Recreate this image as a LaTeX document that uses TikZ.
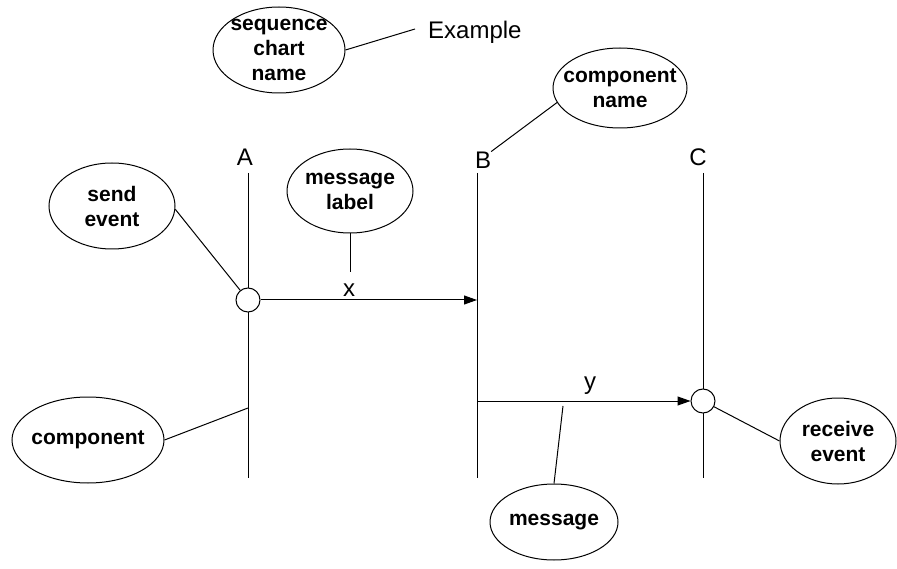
\documentclass[tikz,border=0pt]{standalone}
\usepackage{fontspec}
\setmainfont{Liberation Sans}
\usetikzlibrary{shapes.geometric,arrows.meta}
\begin{document}
\begin{tikzpicture}[x=1pt,y=-1pt,
  bubble/.style={draw,ellipse,line width=1pt,inner sep=0pt},
  btxt/.style={inner sep=0pt,align=center,font=\fontsize{21}{25}\selectfont\bfseries},
  lbl/.style={inner sep=0pt,font=\fontsize{24}{28}\selectfont},
  ln/.style={line width=1pt},
  evt/.style={draw,circle,fill=white,line width=1pt,minimum size=24pt,inner sep=0pt},
  msg/.style={line width=1pt,-{Triangle[length=13pt,width=9pt]}}]
\useasboundingbox (0,0) rectangle (897,569);

% lifelines
\coordinate (At) at (248,173); \coordinate (Ab) at (248,478);
\coordinate (Bt) at (477,173); \coordinate (Bb) at (477,478);
\coordinate (Ct) at (703,173); \coordinate (Cb) at (703,478);
\draw[ln] (At) -- (Ab);
\draw[ln] (Bt) -- (Bb);
\draw[ln] (Ct) -- (Cb);
\node[lbl] (Al) at (245,157) {A};
\node[lbl] (Bl) at (483,160) {B};
\node[lbl] (Cl) at (698,157) {C};

% events
\node[evt] (c1) at (248,300) {};
\node[evt] (c2) at (703,401) {};
\coordinate (bx) at (477,300);
\coordinate (by) at (477,401);
\draw[msg] (c1) -- (bx);
\draw[msg] (by) -- (c2);
\node[lbl] (xl) at (349,290) {x};
\node[lbl] (yl) at (590,386) {y};

% bubbles
\node[bubble,minimum width=132pt,minimum height=86pt] (scn) at (279,50) {};
\node[btxt] (scnt) at (scn) {sequence\\chart\\name};
\node[bubble,minimum width=134pt,minimum height=80pt] (cn) at (620,88) {};
\node[btxt] (cnt) at (cn) {component\\name};
\node[bubble,minimum width=126pt,minimum height=86pt] (se) at (112,206) {};
\node[btxt] (set) at (se) {send\\event};
\node[bubble,minimum width=126pt,minimum height=84pt] (ml) at (350,191) {};
\node[btxt] (mlt) at (ml) {message\\label};
\node[bubble,minimum width=152pt,minimum height=86pt] (comp) at (88,440) {};
\node[btxt] (compt) at (comp) {component};
\node[bubble,minimum width=128pt,minimum height=76pt] (msgb) at (554,522) {};
\node[btxt] (msgbt) at (msgb) {message};
\node[bubble,minimum width=116pt,minimum height=86pt] (rev) at (838,441) {};
\node[btxt] (revt) at (rev) {receive\\event};

% Example
\node[lbl,anchor=west] (ex) at (428,32) {Example};
\coordinate (exl) at (415,29);

% connectors
\draw[ln] (scn.east) -- (exl);
\draw[ln] (Bl.north east) -- (cn.193);
\draw[ln] (se.-3) -- (c1);
\coordinate (mlend) at (350,272);
\draw[ln] (ml.south) -- (mlend);
\coordinate (a3) at (248,408);
\draw[ln] (comp.east) -- (a3);
\coordinate (msgst) at (563,406);
\draw[ln] (msgst) -- (msgb.north);
\draw[ln] (c2) -- (rev.west);
\end{tikzpicture}
\end{document}
